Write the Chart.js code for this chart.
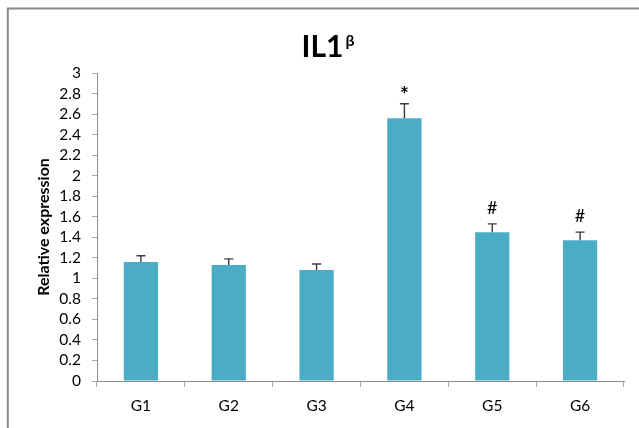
<!DOCTYPE html>
<html>
<head>
<meta charset="utf-8">
<title>IL1β relative expression</title>
<script src="https://cdn.jsdelivr.net/npm/chart.js@4.4.1/dist/chart.umd.min.js"></script>
<style>
  html, body { margin: 0; padding: 0; background: #ffffff; }
  #chart { display: block; }
</style>
</head>
<body>
<canvas id="chart" width="639" height="428"></canvas>
<script>
// Groups and measured values
const groups = ['G1', 'G2', 'G3', 'G4', 'G5', 'G6'];
const meanExpression = [1.16, 1.13, 1.08, 2.56, 1.45, 1.37];
const errorBars = [0.06, 0.06, 0.06, 0.14, 0.08, 0.08];
const significance = ['', '', '', '*', '#', '#'];
const yTickValues = [0, 0.2, 0.4, 0.6, 0.8, 1, 1.2, 1.4, 1.6, 1.8, 2, 2.2, 2.4, 2.6, 2.8, 3];

const FONT = 'Lato, "Open Sans", "DejaVu Sans", sans-serif';
const AXIS_GREY = '#8c8c8c';
const TICK_GREY = '#a6a6a6';

// White page, outer frame
const framePlugin = {
  id: 'frame',
  beforeDraw(chart) {
    const ctx = chart.ctx;
    ctx.save();
    ctx.fillStyle = '#ffffff';
    ctx.fillRect(0, 0, chart.width, chart.height);
    ctx.strokeStyle = '#8a8a8a';
    ctx.lineWidth = 2;
    ctx.strokeRect(7.8, 8.5, chart.width + 20, chart.height + 20);
    ctx.restore();
  }
};

// Title with superscript beta
const titlePlugin = {
  id: 'supTitle',
  afterDraw(chart) {
    const ctx = chart.ctx;
    ctx.save();
    ctx.fillStyle = '#000000';
    ctx.textBaseline = 'alphabetic';
    ctx.textAlign = 'left';
    const main = 'IL1', sup = 'β';
    ctx.font = 'bold 30px ' + FONT;
    const wMain = ctx.measureText(main).width;
    ctx.font = 'bold 16px ' + FONT;
    const wSup = ctx.measureText(sup).width;
    const cx = 328;
    const x0 = cx - (wMain + 2 + wSup) / 2;
    ctx.font = 'bold 30px ' + FONT;
    ctx.fillText(main, x0, 57);
    ctx.font = 'bold 16px ' + FONT;
    ctx.fillText(sup, x0 + wMain + 2, 46);
    ctx.restore();
  }
};

// Error bars and significance marks above each bar
const errorBarPlugin = {
  id: 'errorBars',
  afterDatasetsDraw(chart) {
    const ctx = chart.ctx;
    const meta = chart.getDatasetMeta(0);
    const yScale = chart.scales.y;
    ctx.save();
    ctx.strokeStyle = '#3a3a3a';
    ctx.lineWidth = 1.4;
    meta.data.forEach((bar, i) => {
      const x = bar.x;
      const yTop = yScale.getPixelForValue(meanExpression[i]);
      const yErr = yScale.getPixelForValue(meanExpression[i] + errorBars[i]);
      ctx.beginPath();
      ctx.moveTo(x, yTop);
      ctx.lineTo(x, yErr);
      ctx.moveTo(x - 4.5, yErr);
      ctx.lineTo(x + 4.5, yErr);
      ctx.stroke();
      const mark = significance[i];
      if (mark) {
        ctx.font = (mark === '*' ? 'bold 21px ' : '18px ') + FONT;
        ctx.fillStyle = '#000000';
        ctx.textAlign = 'center';
        ctx.textBaseline = 'alphabetic';
        const m = ctx.measureText(mark);
        const descent = m.actualBoundingBoxDescent || 0;
        ctx.fillText(mark, x, yErr - 10 - descent);
      }
    });
    ctx.restore();
  }
};

new Chart(document.getElementById('chart'), {
  type: 'bar',
  data: {
    labels: groups,
    datasets: [{
      label: 'Relative expression',
      data: meanExpression,
      backgroundColor: '#4bacc6',
      borderWidth: 0,
      categoryPercentage: 1,
      barPercentage: 0.39
    }]
  },
  options: {
    responsive: false,
    animation: false,
    devicePixelRatio: 1,
    layout: { padding: { left: 0, right: 15, top: 73, bottom: 0 } },
    plugins: {
      legend: { display: false },
      title: { display: false },
      tooltip: { enabled: false }
    },
    scales: {
      x: {
        afterFit(scale) { scale.height = 47; },
        grid: {
          offset: true,
          drawOnChartArea: false,
          drawTicks: true,
          tickLength: 6,
          color: TICK_GREY
        },
        border: { display: true, color: AXIS_GREY, width: 1 },
        ticks: {
          color: '#000000',
          padding: 10,
          autoSkip: false,
          maxRotation: 0,
          font: { family: FONT, size: 15.5 }
        }
      },
      y: {
        min: 0,
        max: 3,
        afterFit(scale) { scale.width = 97; },
        afterBuildTicks(scale) {
          scale.ticks = yTickValues.map(v => ({ value: v }));
        },
        grid: {
          drawOnChartArea: false,
          drawTicks: true,
          tickLength: 5,
          color: TICK_GREY
        },
        border: { display: true, color: AXIS_GREY, width: 1 },
        ticks: {
          color: '#000000',
          padding: 11,
          autoSkip: false,
          font: { family: FONT, size: 15.5 },
          callback: (v) => String(Math.round(v * 10) / 10)
        },
        title: {
          display: true,
          text: 'Relative expression',
          color: '#000000',
          font: { family: FONT, size: 16, weight: 'bold' },
          padding: { top: 34, bottom: 0 }
        }
      }
    }
  },
  plugins: [framePlugin, titlePlugin, errorBarPlugin]
});
</script>
</body>
</html>
